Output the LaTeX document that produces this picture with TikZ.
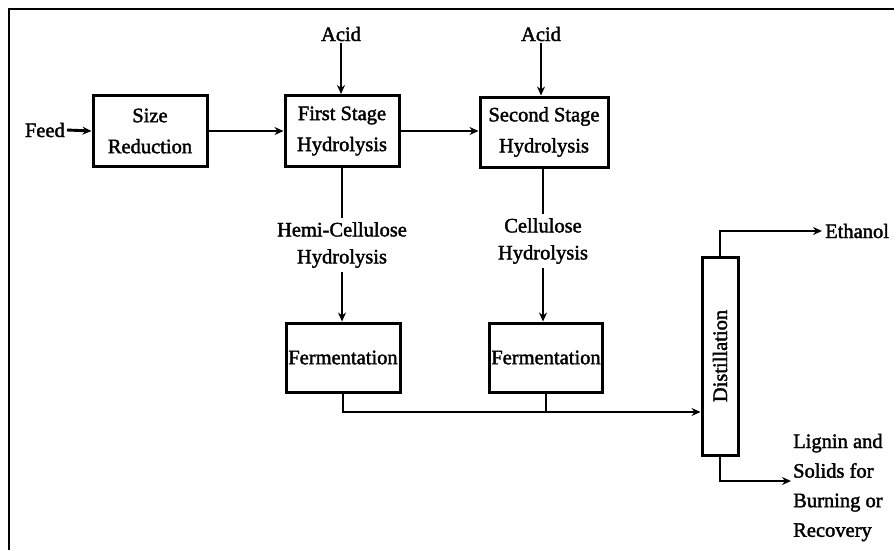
\documentclass[tikz,border=0pt]{standalone}
\usepackage{fontspec}
\setmainfont[FakeBold=1.8]{Liberation Serif}
\usetikzlibrary{arrows.meta}
\begin{document}
\begin{tikzpicture}[x=1pt,y=-1pt,
  box/.style={draw, line width=3pt, inner sep=0pt, align=center,
    font=\fontsize{20.5}{31}\selectfont},
  lbl/.style={inner sep=2pt, align=center, font=\fontsize{20.5}{27}\selectfont},
  flow/.style={line width=2.9pt, -{Stealth[length=9pt,width=8pt]}},
  pipe/.style={line width=2.9pt}]
\useasboundingbox (0,0) rectangle (894,550);
\draw[line width=2.4pt] (9,550) -- (9,9) -- (894,9);

% process boxes
\node[box, minimum width=114pt, minimum height=71pt] (size) at (150,131) {Size\\Reduction};
\node[box, minimum width=114pt, minimum height=71pt] (first) at (342,131) {First Stage\\Hydrolysis};
\node[box, minimum width=128pt, minimum height=70pt] (second) at (544,132) {Second Stage\\Hydrolysis};
\node[box, minimum width=114pt, minimum height=69pt] (ferm1) at (343,357.5) {Fermentation};
\node[box, minimum width=113pt, minimum height=69pt] (ferm2) at (546,357.5) {Fermentation};
\node[box, minimum width=36pt, minimum height=198pt] (dist) at (720,356) {};
\node[lbl, rotate=90, inner sep=0pt] (distlbl) at (dist.center) {Distillation};

% labels
\node[lbl, anchor=east] (feed) at (67,130) {Feed};
\node[lbl] (acid1) at (341,34) {Acid};
\node[lbl] (acid2) at (541,34) {Acid};
\node[lbl, inner sep=4pt] (hemi) at (342,245) {Hemi-Cellulose\\Hydrolysis};
\node[lbl, inner sep=4pt] (cell) at (543,241) {Cellulose\\Hydrolysis};
\node[lbl, anchor=west, inner sep=3pt] (ethanol) at (822,231) {Ethanol};
\node[lbl, anchor=west, align=left, inner sep=0pt,
  font=\fontsize{20.5}{29.6}\selectfont] (lignin) at (793,487.5)
  {Lignin and\\Solids for\\Burning or\\Recovery};

\coordinate (lvl) at (0,412);
\coordinate (ligin) at (791,481);

% connectors
\draw[flow] (feed.east) -- (size.west);
\draw[flow] (size.east) -- (first.west);
\draw[flow] (first.east) -- (second.west |- first.east);
\draw[flow] (acid1.south) -- (acid1.south |- first.north);
\draw[flow] (acid2.south) -- (acid2.south |- second.north);
\draw[pipe] (first.south) -- (first.south |- hemi.north);
\draw[flow] (hemi.south) -- (hemi.south |- ferm1.north);
\draw[pipe] (cell.north |- second.south) -- (cell.north);
\draw[flow] (cell.south) -- (cell.south |- ferm2.north);
\draw[flow] (ferm1.south) |- (dist.west |- lvl);
\draw[pipe] (ferm2.south) -- (ferm2.south |- lvl);
\draw[flow] (dist.north) |- (ethanol.west);
\draw[flow] (dist.south) |- (ligin);
\end{tikzpicture}
\end{document}
